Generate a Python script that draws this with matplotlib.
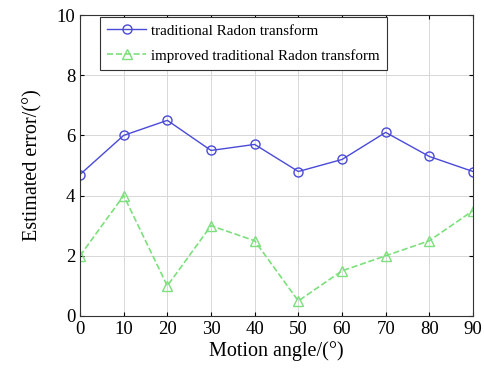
import matplotlib
matplotlib.use('Agg')
import matplotlib.pyplot as plt

angles = [0, 10, 20, 30, 40, 50, 60, 70, 80, 90]
err_traditional = [4.7, 6.0, 6.5, 5.5, 5.7, 4.8, 5.2, 6.1, 5.3, 4.8]
err_improved = [2.0, 4.0, 1.0, 3.0, 2.5, 0.5, 1.5, 2.0, 2.5, 3.5]

plt.rcParams['font.family'] = ['Liberation Serif', 'DejaVu Serif']

fig = plt.figure(figsize=(4.85, 3.77), dpi=100)
ax = fig.add_axes([80 / 485, 61 / 377, 393 / 485, 301 / 377])

ax.plot(angles, err_traditional, color='#4a4ad8', marker='o', markersize=6.5,
        markerfacecolor='none', linewidth=1.0, label='traditional Radon transform')
ax.plot(angles, err_improved, color='#7ce07c', marker='^', markersize=6.5,
        markerfacecolor='none', linestyle='--', linewidth=1.2,
        label='improved traditional Radon transform')

ax.set_xlim(0, 90)
ax.set_ylim(0, 10)
ax.set_xticks(angles)
ax.set_yticks([0, 2, 4, 6, 8, 10])
ax.tick_params(direction='in', top=True, right=True, labelsize=13.5, length=3)
ax.grid(True, color='#d8d8d8', linewidth=0.7)
for s in ax.spines.values():
    s.set_color('#333333')
ax.set_xlabel('Motion angle/(°)', fontsize=14.5, labelpad=2)
ax.set_ylabel('Estimated error/(°)', fontsize=14.5, labelpad=10)

leg = ax.legend(loc='upper left', bbox_to_anchor=(0.05, 0.995), fontsize=10.8,
                fancybox=False, framealpha=1, edgecolor='#333333',
                borderaxespad=0, handlelength=2.6, handletextpad=0.3,
                borderpad=0.5, labelspacing=0.75)
leg.get_frame().set_linewidth(0.8)

fig.savefig('out.png', dpi=100)
